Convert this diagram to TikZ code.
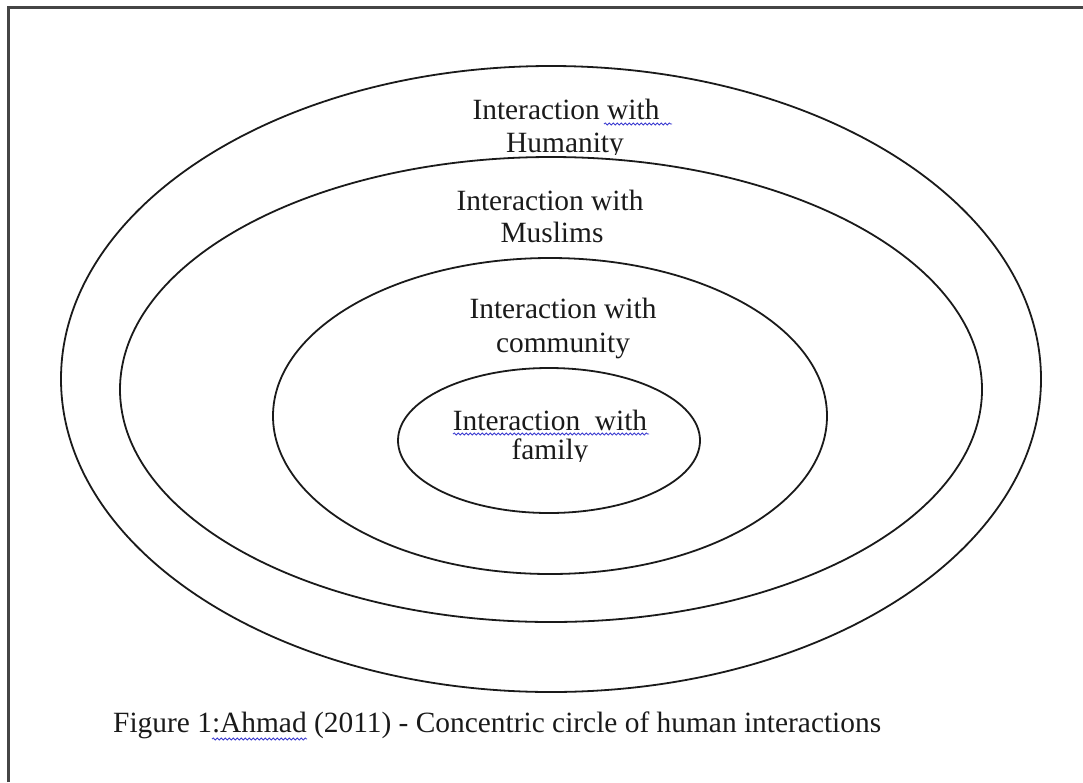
\documentclass[tikz,border=0pt]{standalone}
\usepackage{fontspec}
\setmainfont{Liberation Serif}
\usetikzlibrary{decorations.pathmorphing}
\definecolor{ink}{HTML}{1A1A1A}
\definecolor{framegray}{HTML}{454545}
\definecolor{spell}{HTML}{3A3AD0}
\tikzset{
  ring/.style={draw=ink, line width=1.8pt},
  lbl/.style={anchor=base, inner sep=0pt, text=ink, font=\fontsize{29.4}{33}\selectfont},
  captext/.style={anchor=base west, inner sep=0pt, text=ink, font=\fontsize{29.4}{33}\selectfont},
  wavy/.style={draw=spell, line width=0.8pt, decorate, decoration={snake, amplitude=1.1pt, segment length=4pt}}
}
\begin{document}
\begin{tikzpicture}[x=1pt,y=-1pt]
\useasboundingbox (0,0) rectangle (1083,782);
% frame (only top and left visible)
\draw[framegray, line width=3pt] (8,782) -- (8,7) -- (1083,7);
% concentric ellipses
\draw[ring] (551,379) ellipse [x radius=490pt, y radius=313pt];
\draw[ring] (551,389.5) ellipse [x radius=431pt, y radius=232.5pt];
\draw[ring] (550,416) ellipse [x radius=277pt, y radius=158pt];
\draw[ring] (549,440.5) ellipse [x radius=151pt, y radius=72.5pt];
% labels
\node[lbl] (hum1) at (566,119) {Interaction with};
\begin{scope}
\clip (0,0) rectangle (1083,154);
\node[lbl] (hum2) at (565,152) {Humanity};
\end{scope}
\node[lbl] (mus1) at (550,210) {Interaction with};
\node[lbl] (mus2) at (552,242) {Muslims};
\node[lbl] (com1) at (563,318) {Interaction with};
\node[lbl] (com2) at (563,352) {community};
\node[lbl] (fam1) at (550,430) {Interaction\ \ with};
\begin{scope}
\clip (0,0) rectangle (1083,461);
\node[lbl] (fam2) at (550,459) {family};
\end{scope}
\node[captext] (caption) at (113,732) {Figure 1:Ahmad (2011) - Concentric circle of human interactions};
% spell-check underlines
\coordinate (u1a) at (604,124);
\coordinate (u1b) at (672,124);
\draw[wavy] (u1a) -- (u1b);
\coordinate (u2a) at (453,434);
\coordinate (u2b) at (649,434);
\draw[wavy] (u2a) -- (u2b);
\coordinate (u3a) at (212,739);
\coordinate (u3b) at (307,739);
\draw[wavy] (u3a) -- (u3b);
\end{tikzpicture}
\end{document}
